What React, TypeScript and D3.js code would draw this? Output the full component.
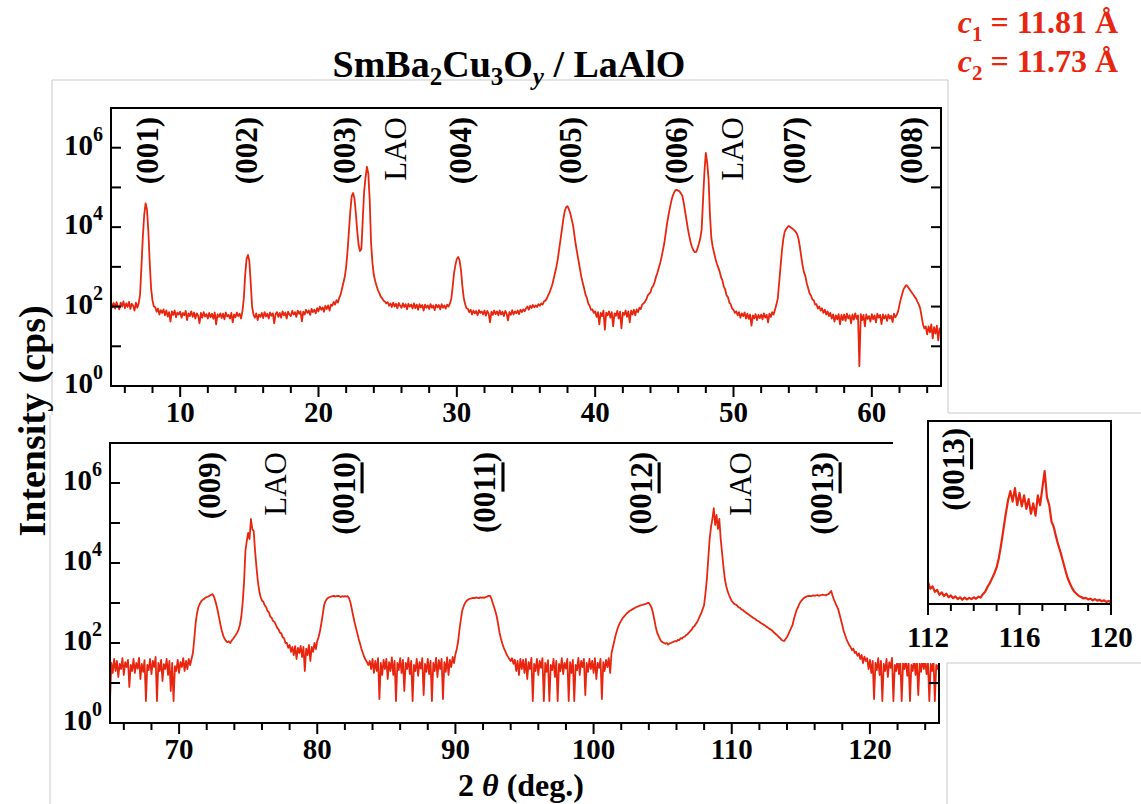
import React from 'react';
import * as d3 from 'd3';

// XRD theta-2theta scan of a SmBa2Cu3Oy film on LaAlO3, log intensity (cps).
const RED = '#e8260f';
const FONT = '"Liberation Serif", "Times New Roman", Times, serif';
const STEP = 0.1;

// Upper panel: 2theta from 5 to 65 deg in 0.1 deg steps, log10(cps)
const topStart = 5;
const topLogCps = [
  2.12, 1.98, 2.09, 1.95, 2.11, 2.01, 1.93, 2.1, 2.0, 2.13,
  1.96, 2.08, 1.99, 2.12, 1.94, 2.07, 2.02, 1.9, 2.1, 1.97,
  2.08, 2.3, 3.0, 3.75, 4.3, 4.6, 4.45, 3.9, 3.1, 2.45,
  2.15, 2.0, 1.98, 1.87, 1.95, 1.8, 1.91, 1.84, 1.93, 1.78,
  1.9, 1.75, 1.86, 1.62, 1.88, 1.79, 1.9, 1.73, 1.85, 1.8,
  1.87, 1.72, 1.84, 1.78, 1.89, 1.66, 1.83, 1.76, 1.88, 1.74,
  1.85, 1.7, 1.83, 1.77, 1.58, 1.84, 1.72, 1.86, 1.75, 1.81,
  1.7, 1.84, 1.73, 1.82, 1.69, 1.85, 1.55, 1.8, 1.74, 1.83,
  1.71, 1.82, 1.68, 1.85, 1.75, 1.79, 1.7, 1.84, 1.6, 1.8,
  1.73, 1.85, 1.76, 1.82, 1.7, 1.88, 2.2, 2.8, 3.2, 3.3,
  3.15, 2.6, 2.0, 1.8, 1.72, 1.83, 1.66, 1.8, 1.74, 1.84,
  1.71, 1.86, 1.75, 1.82, 1.7, 1.85, 1.77, 1.83, 1.58, 1.81,
  1.86, 1.74, 1.84, 1.72, 1.88, 1.78, 1.85, 1.7, 1.87, 1.8,
  1.76, 1.89, 1.8, 1.86, 1.74, 1.9, 1.82, 1.88, 1.63, 1.87,
  1.8, 1.92, 1.84, 1.9, 1.79, 1.94, 1.86, 1.92, 1.83, 1.96,
  1.88, 2.0, 1.92, 1.98, 1.87, 2.02, 1.94, 2.03, 1.9, 2.05,
  2.02, 2.12, 2.05, 2.16, 2.1, 2.22, 2.3, 2.45, 2.6, 2.75,
  3.0, 3.4, 3.9, 4.4, 4.78, 4.86, 4.72, 4.35, 3.9, 3.55,
  3.4, 3.45, 4.2, 4.9, 5.25, 5.52, 5.35, 4.7, 3.6, 3.1,
  2.8, 2.64, 2.52, 2.41, 2.34, 2.25, 2.21, 2.15, 2.13, 2.08,
  2.11, 2.02, 2.08, 1.99, 2.1, 2.0, 2.07, 1.96, 2.09, 2.02,
  1.97, 2.08, 1.99, 2.06, 1.93, 2.07, 2.0, 2.05, 1.95, 2.08,
  1.96, 2.05, 1.92, 2.06, 1.98, 2.04, 1.9, 2.05, 1.97, 2.03,
  1.94, 2.06, 1.97, 2.03, 1.91, 2.05, 1.98, 2.04, 1.93, 2.06,
  1.97, 2.03, 1.95, 2.05, 2.0, 2.08, 2.2, 2.5, 2.85, 3.05,
  3.2, 3.25, 3.16, 2.92, 2.52, 2.22, 2.06, 1.96, 1.94, 1.86,
  1.92, 1.8, 1.9, 1.83, 1.89, 1.78, 1.91, 1.84, 1.88, 1.8,
  1.9, 1.77, 1.89, 1.82, 1.6, 1.87, 1.79, 1.9, 1.81, 1.88,
  1.78, 1.9, 1.8, 1.87, 1.76, 1.89, 1.82, 1.65, 1.86, 1.79,
  1.91, 1.8, 1.88, 1.83, 1.9, 1.81, 1.92, 1.86, 1.93, 1.88,
  1.95, 2.0, 1.92, 2.02, 1.96, 2.04, 1.98, 2.03, 1.99, 2.06,
  2.02, 2.08, 2.05, 2.13, 2.15, 2.2, 2.28, 2.35, 2.45, 2.55,
  2.7, 2.85, 3.0, 3.2, 3.45, 3.7, 3.95, 4.2, 4.4, 4.5,
  4.53, 4.45, 4.35, 4.2, 4.05, 3.8, 3.55, 3.35, 3.15, 2.95,
  2.75, 2.6, 2.46, 2.3, 2.22, 2.08, 2.02, 1.92, 1.93, 1.84,
  1.88, 1.74, 1.86, 1.55, 1.84, 1.76, 1.9, 1.42, 1.85, 1.78,
  1.88, 1.72, 1.86, 1.5, 1.83, 1.77, 1.89, 1.7, 1.87, 1.45,
  1.85, 1.79, 1.9, 1.74, 1.88, 1.6, 1.9, 1.8, 1.92, 1.78,
  1.93, 1.86, 1.97, 1.94, 2.05, 2.08, 2.12, 2.18, 2.28, 2.32,
  2.36, 2.48, 2.52, 2.62, 2.75, 2.85, 2.98, 3.1, 3.25, 3.42,
  3.6, 3.85, 4.1, 4.3, 4.48, 4.65, 4.78, 4.87, 4.93, 4.94,
  4.92, 4.9, 4.85, 4.79, 4.62, 4.4, 4.18, 3.96, 3.78, 3.62,
  3.5, 3.42, 3.37, 3.38, 3.46, 3.58, 3.72, 3.95, 4.7, 5.4,
  5.87, 5.62, 5.2, 4.3, 3.72, 3.5, 3.35, 3.2, 3.08, 2.98,
  2.88, 2.74, 2.66, 2.5, 2.43, 2.28, 2.24, 2.1, 2.06, 1.95,
  1.92, 1.84, 1.88, 1.78, 1.86, 1.72, 1.83, 1.76, 1.85, 1.7,
  1.82, 1.69, 1.8, 1.52, 1.78, 1.7, 1.81, 1.66, 1.79, 1.71,
  1.8, 1.68, 1.83, 1.72, 1.79, 1.6, 1.82, 1.74, 1.86, 1.8,
  1.92, 2.05, 2.2, 2.6, 3.0, 3.4, 3.7, 3.88, 3.95, 4.0,
  4.03, 4.0, 3.98, 3.95, 3.92, 3.88, 3.82, 3.7, 3.5, 3.25,
  3.02, 2.86, 2.76, 2.58, 2.46, 2.33, 2.28, 2.18, 2.16, 2.05,
  2.06, 1.95, 2.0, 1.9, 1.96, 1.84, 1.92, 1.8, 1.88, 1.76,
  1.84, 1.7, 1.8, 1.62, 1.78, 1.68, 1.81, 1.55, 1.79, 1.66,
  1.8, 1.64, 1.82, 1.7, 1.78, 1.58, 1.8, 1.67, 1.83, 1.69,
  1.78, 0.5, 1.81, 1.66, 1.79, 1.5, 1.8, 1.69, 1.76, 1.62,
  1.81, 1.68, 1.78, 1.6, 1.82, 1.72, 1.79, 1.56, 1.8, 1.7,
  1.78, 1.64, 1.8, 1.7, 1.77, 1.61, 1.82, 1.73, 1.79, 1.88,
  2.05, 2.2, 2.32, 2.44, 2.5, 2.54, 2.5, 2.45, 2.4, 2.35,
  2.3, 2.25, 2.2, 2.12, 2.05, 1.95, 1.75, 1.55, 1.45, 1.5,
  1.3, 1.5, 1.35, 1.55, 1.2, 1.48, 1.32, 1.52, 1.15, 1.45,
  1.38,
];

// Lower panel: 2theta from 65 to 125 deg in 0.1 deg steps, log10(cps)
const bottomStart = 65;
const bottomLogCps = [
  0.55, 1.5, 1.25, 1.6, 1.3, 1.55, 1.15, 1.48, 1.35, 1.62,
  1.2, 1.52, 1.4, 1.58, 0.9, 1.45, 1.3, 1.6, 1.25, 1.5,
  1.36, 1.63, 1.1, 1.48, 1.28, 1.57, 0.55, 1.45, 1.32, 1.6,
  1.22, 1.55, 1.4, 1.65, 0.55, 1.5, 1.3, 1.58, 1.05, 1.47,
  1.35, 1.6, 1.2, 1.55, 0.8, 1.5, 0.55, 1.42, 1.3, 1.58,
  1.25, 1.52, 1.4, 1.62, 1.3, 1.55, 1.35, 1.6, 1.45, 1.6,
  1.75, 2.1, 2.5, 2.75, 2.9, 2.98, 3.04, 3.08, 3.1, 3.13,
  3.15, 3.16, 3.18, 3.2, 3.22, 3.18, 3.08, 2.95, 2.8, 2.62,
  2.45, 2.3, 2.18, 2.1, 2.05, 2.02, 2.04, 2.0, 2.06, 2.1,
  2.15, 2.2, 2.26, 2.33, 2.45, 2.65, 3.0, 3.5, 4.3, 4.55,
  4.75, 4.6, 5.1, 4.85, 4.8, 4.3, 3.9, 3.55, 3.3, 3.15,
  3.06, 3.03, 2.94, 2.9, 2.8, 2.77, 2.66, 2.63, 2.55, 2.53,
  2.46, 2.38, 2.34, 2.26, 2.24, 2.14, 2.12, 2.0, 2.0, 1.88,
  1.95, 1.78, 1.9, 1.7, 1.92, 1.6, 1.88, 1.75, 1.93, 1.65,
  1.9, 1.3, 1.86, 1.7, 1.95, 1.55, 1.9, 1.78, 2.0, 1.85,
  2.05, 2.15, 2.3, 2.5, 2.72, 2.95, 3.05, 3.1, 3.13, 3.15,
  3.16, 3.17, 3.18, 3.16, 3.17, 3.18, 3.17, 3.15, 3.17, 3.16,
  3.17, 3.16, 3.17, 3.12, 3.02, 2.85, 2.68, 2.52, 2.38, 2.24,
  2.1, 1.98, 1.85, 1.75, 1.65, 1.58, 1.52, 1.45, 1.55, 1.35,
  1.6, 1.25, 1.55, 1.3, 1.62, 0.6, 1.5, 1.2, 1.58, 1.35,
  1.6, 1.1, 1.52, 1.3, 1.64, 1.2, 1.55, 0.55, 1.5, 1.32,
  1.62, 1.25, 1.58, 0.8, 1.5, 1.35, 1.63, 1.22, 1.55, 0.55,
  1.45, 1.3, 1.6, 1.18, 1.52, 1.36, 1.62, 0.7, 1.48, 1.28,
  1.6, 1.22, 1.55, 0.55, 1.5, 1.3, 1.63, 1.15, 1.57, 1.35,
  1.6, 0.6, 1.52, 1.28, 1.64, 1.2, 1.58, 1.4, 1.65, 1.5,
  1.72, 1.85, 2.05, 2.35, 2.6, 2.82, 2.92, 3.0, 3.05, 3.08,
  3.1, 3.11, 3.12, 3.13, 3.12, 3.14, 3.13, 3.12, 3.14, 3.13,
  3.14, 3.13, 3.15, 3.16, 3.18, 3.18, 3.12, 3.0, 2.9, 2.78,
  2.65, 2.45, 2.25, 2.1, 1.98, 1.88, 1.8, 1.72, 1.66, 1.6,
  1.55, 1.62, 1.48, 1.58, 1.3, 1.55, 1.2, 1.6, 1.35, 1.58,
  1.25, 1.6, 1.1, 1.52, 1.35, 1.63, 0.55, 1.48, 1.3, 1.6,
  1.2, 1.55, 1.38, 1.62, 0.55, 1.5, 1.28, 1.57, 0.55, 1.45,
  1.32, 1.6, 1.15, 1.55, 0.55, 1.48, 1.3, 1.62, 1.22, 1.5,
  1.36, 1.6, 0.55, 1.52, 1.25, 1.58, 0.55, 1.45, 1.32, 1.63,
  1.2, 1.55, 1.4, 1.6, 0.7, 1.5, 1.28, 1.6, 1.35, 1.55,
  1.25, 1.62, 1.1, 1.5, 1.38, 1.6, 0.6, 1.52, 1.3, 1.58,
  1.4, 1.62, 1.25, 1.75, 1.9, 2.05, 2.2, 2.32, 2.42, 2.5,
  2.56, 2.62, 2.66, 2.7, 2.74, 2.77, 2.8, 2.82, 2.84, 2.86,
  2.88, 2.9, 2.91, 2.93, 2.94, 2.95, 2.96, 2.97, 2.98, 3.0,
  3.0, 2.95, 2.88, 2.75, 2.58, 2.4, 2.26, 2.18, 2.1, 2.04,
  2.02, 2.0, 1.98, 2.0, 1.96, 1.99, 2.0, 2.02, 2.03, 2.05,
  2.04, 2.08, 2.07, 2.12, 2.11, 2.15, 2.16, 2.2, 2.22, 2.26,
  2.3, 2.33, 2.4, 2.42, 2.48, 2.52, 2.6, 2.68, 2.75, 2.85,
  2.95, 3.25, 3.6, 4.1, 4.6, 4.9, 5.1, 5.37, 4.95, 5.2,
  4.85, 5.1, 4.6, 4.25, 3.9, 3.6, 3.42, 3.3, 3.2, 3.12,
  3.05, 3.01, 2.97, 2.96, 2.93, 2.89, 2.88, 2.84, 2.83, 2.79,
  2.77, 2.74, 2.72, 2.69, 2.67, 2.64, 2.62, 2.6, 2.57, 2.55,
  2.53, 2.5, 2.48, 2.46, 2.44, 2.41, 2.39, 2.36, 2.34, 2.32,
  2.28, 2.25, 2.22, 2.19, 2.15, 2.12, 2.08, 2.06, 2.05, 2.1,
  2.15, 2.22, 2.3, 2.38, 2.45, 2.6, 2.72, 2.83, 2.9, 2.98,
  3.04, 3.08, 3.12, 3.14, 3.16, 3.17, 3.18, 3.17, 3.18, 3.19,
  3.18, 3.19, 3.2, 3.18, 3.19, 3.2, 3.21, 3.2, 3.19, 3.21,
  3.22, 3.26, 3.3, 3.18, 3.08, 3.0, 2.92, 2.85, 2.72, 2.58,
  2.45, 2.3, 2.2, 2.1, 2.02, 1.95, 1.9, 1.82, 1.86, 1.75,
  1.78, 1.68, 1.74, 1.6, 1.7, 1.5, 1.66, 1.55, 1.62, 1.35,
  1.58, 1.25, 1.55, 0.6, 1.5, 1.32, 1.62, 1.2, 1.55, 0.55,
  1.48, 1.3, 1.6, 1.15, 1.52, 1.38, 1.63, 0.55, 1.45, 1.3,
  1.6, 1.22, 1.55, 0.55, 1.5, 1.35, 1.6, 1.18, 1.52, 0.55,
  1.45, 1.3, 1.62, 1.2, 1.55, 0.7, 1.5, 1.28, 1.6, 1.35,
  1.58, 1.22, 1.52, 0.55, 1.48, 1.3, 1.6, 0.55, 1.45, 1.35,
  1.5,
];

// Inset: (00 13) reflection on a linear scale, 112 to 120 deg, cps
const insetStart = 112;
const insetCps = [
  360, 250, 290, 200, 230, 150, 190, 130, 170, 110,
  140, 95, 125, 80, 110, 70, 105, 75, 100, 80,
  110, 85, 120, 105, 160, 200, 280, 340, 420, 500,
  600, 760, 980, 1230, 1480, 1700, 1850, 1680, 1900, 1620,
  1820, 1600, 1780, 1560, 1720, 1480, 1650, 1450, 1780, 1620,
  1900, 2180, 1750, 1620, 1350, 1260, 1100, 960, 840, 700,
  560, 430, 340, 260, 200, 165, 130, 115, 90, 100,
  75, 90, 60, 80, 55, 70, 45, 60, 35, 50,
  30,
];

const topTickLabels = [10, 20, 30, 40, 50, 60];
const bottomTickLabels = [70, 80, 90, 100, 110, 120];
const insetTickLabels = [112, 116, 120];
const decadeLabels = [0, 2, 4, 6];

const topPeakPos = [7.65, 14.77, 21.9, 25.6, 30.3, 38.2, 45.9, 49.9, 54.4, 62.9];
const topPeakNames = ['(001)', '(002)', '(003)', 'LAO', '(004)', '(005)', '(006)', 'LAO', '(007)', '(008)'];
const bottomPeakPos = [72.2, 77.0, 81.9, 92.1, 103.4, 110.6, 116.5];
const bottomPeakNames = ['(009)', 'LAO', '(0010)', '(0011)', '(0012)', 'LAO', '(0013)'];

function PeakLabel({ x, y, name }: { x: number; y: number; name: string }) {
  const m = /^\(00(\d\d)\)$/.exec(name);
  const lao = name === 'LAO';
  return (
    <text
      transform={`translate(${x},${y}) rotate(-90)`}
      textAnchor="end"
      dominantBaseline="central"
      fontSize={31}
      fontWeight={lao ? 'normal' : 'bold'}
      fontFamily={FONT}
      fill="#000"
    >
      {m ? (
        <>
          (00<tspan style={{ textDecoration: 'underline' }}>{m[1]}</tspan>)
        </>
      ) : (
        name
      )}
    </text>
  );
}

type PanelProps = {
  id: string;
  left: number;
  right: number;
  top: number;
  bottom: number;
  domain: [number, number];
  start: number;
  values: number[];
  tickLabels: number[];
  peakPos: number[];
  peakNames: string[];
  labelTop: number;
};

function Panel(p: PanelProps) {
  const x = d3.scaleLinear().domain(p.domain).range([p.left, p.right]);
  const y = d3.scaleLog().domain([1, 1e7]).range([p.bottom, p.top]);
  const line = d3
    .line<number>()
    .x((_, i) => x(p.start + i * STEP))
    .y((v) => y(Math.pow(10, v)));
  const minor = d3.range(Math.ceil(p.domain[0] / 2) * 2, p.domain[1], 2);
  const decades = d3.range(1, 7);
  return (
    <g>
      <defs>
        <clipPath id={p.id}>
          <rect x={p.left} y={p.top} width={p.right - p.left} height={p.bottom - p.top} />
        </clipPath>
      </defs>
      <path
        d={line(p.values) || ''}
        fill="none"
        stroke={RED}
        strokeWidth={1.8}
        strokeLinejoin="round"
        clipPath={`url(#${p.id})`}
      />
      <rect x={p.left} y={p.top} width={p.right - p.left} height={p.bottom - p.top} fill="none" stroke="#000" strokeWidth={2} />
      {decades.map((d) => (
        <g key={d}>
          <line x1={p.left} x2={p.left + 10} y1={y(Math.pow(10, d))} y2={y(Math.pow(10, d))} stroke="#000" strokeWidth={2} />
          <line x1={p.right - 10} x2={p.right} y1={y(Math.pow(10, d))} y2={y(Math.pow(10, d))} stroke="#000" strokeWidth={2} />
        </g>
      ))}
      {minor.map((t) => (
        <line key={t} x1={x(t)} x2={x(t)} y1={p.bottom} y2={p.bottom + (t % 10 === 0 ? 11 : 7)} stroke="#000" strokeWidth={2} />
      ))}
      {p.tickLabels.map((t) => (
        <text key={t} x={x(t)} y={p.bottom + 36} textAnchor="middle" fontSize={29} fontWeight="bold" fontFamily={FONT}>
          {t}
        </text>
      ))}
      {decadeLabels.map((d) => (
        <g key={d}>
          <text x={p.left - 18} y={y(Math.pow(10, d)) + 7} textAnchor="end" fontSize={29} fontWeight="bold" fontFamily={FONT}>
            10
          </text>
          <text x={p.left - 18} y={y(Math.pow(10, d)) - 7} textAnchor="start" fontSize={20} fontWeight="bold" fontFamily={FONT}>
            {d}
          </text>
        </g>
      ))}
      {p.peakPos.map((pos, i) => (
        <PeakLabel key={i} x={x(pos)} y={p.labelTop} name={p.peakNames[i]} />
      ))}
    </g>
  );
}

function Inset() {
  const left = 928;
  const right = 1111;
  const top = 421;
  const bottom = 604;
  const x = d3.scaleLinear().domain([112, 120]).range([left, right]);
  const y = d3.scaleLinear().domain([0, 3000]).range([bottom, top]);
  const line = d3
    .line<number>()
    .x((_, i) => x(insetStart + i * STEP))
    .y((v) => y(v));
  const ticks = d3.range(112, 121, 1);
  return (
    <g>
      <path d={line(insetCps) || ''} fill="none" stroke={RED} strokeWidth={2.2} strokeLinejoin="round" />
      <rect x={left} y={top} width={right - left} height={bottom - top} fill="none" stroke="#000" strokeWidth={2} />
      {ticks.map((t) => (
        <line key={t} x1={x(t)} x2={x(t)} y1={bottom} y2={bottom + (t % 4 === 0 ? 11 : 7)} stroke="#000" strokeWidth={2} />
      ))}
      {insetTickLabels.map((t) => (
        <text key={t} x={x(t)} y={647} textAnchor="middle" fontSize={29} fontWeight="bold" fontFamily={FONT}>
          {t}
        </text>
      ))}
      <PeakLabel x={953} y={428} name="(0013)" />
    </g>
  );
}

export default function App() {
  const gray = '#c9c9c9';
  return (
    <svg
      width={1141}
      height={804}
      viewBox="0 0 1141 804"
      style={{ position: 'absolute', left: 0, top: 0, background: '#fff' }}
      fontFamily={FONT}
    >
      <rect x={0} y={0} width={1141} height={804} fill="#fff" />
      {/* frames of the assembled figure */}
      <line x1={52} y1={80} x2={948} y2={80} stroke={gray} strokeWidth={1} />
      <line x1={52} y1={80} x2={52} y2={415} stroke={gray} strokeWidth={1} />
      <line x1={948} y1={80} x2={948} y2={413} stroke={gray} strokeWidth={1} />
      <line x1={50} y1={415} x2={50} y2={804} stroke={gray} strokeWidth={1} />

      <Panel
        id="clipTop"
        left={111}
        right={941}
        top={108}
        bottom={386}
        domain={[5, 65]}
        start={topStart}
        values={topLogCps}
        tickLabels={topTickLabels}
        peakPos={topPeakPos}
        peakNames={topPeakNames}
        labelTop={117}
      />
      <Panel
        id="clipBottom"
        left={110}
        right={939}
        top={443}
        bottom={723}
        domain={[65, 125]}
        start={bottomStart}
        values={bottomLogCps}
        tickLabels={bottomTickLabels}
        peakPos={bottomPeakPos}
        peakNames={bottomPeakNames}
        labelTop={452}
      />

      {/* inset panel */}
      <rect x={893} y={413} width={248} height={250} fill="#fff" />
      <line x1={948} y1={413} x2={1141} y2={413} stroke={gray} strokeWidth={1} />
      <line x1={947} y1={663} x2={1141} y2={663} stroke={gray} strokeWidth={1} />
      <line x1={947} y1={663} x2={947} y2={804} stroke={gray} strokeWidth={1} />
      <Inset />

      {/* title */}
      <text x={509} y={77} textAnchor="middle" fontSize={38} fontWeight="bold">
        SmBa<tspan dy={8} fontSize={25}>2</tspan>
        <tspan dy={-8}>Cu</tspan>
        <tspan dy={8} fontSize={25}>3</tspan>
        <tspan dy={-8}>O</tspan>
        <tspan dy={8} fontSize={25} fontStyle="italic">y</tspan>
        <tspan dy={-8}> / LaAlO</tspan>
      </text>

      {/* lattice constants */}
      <text x={1118} y={33} textAnchor="end" fontSize={32} fontWeight="bold" fill={RED}>
        <tspan fontStyle="italic">c</tspan>
        <tspan dy={8} fontSize={21}>1</tspan>
        <tspan dy={-8}> = 11.81 Å</tspan>
      </text>
      <text x={1118} y={72} textAnchor="end" fontSize={32} fontWeight="bold" fill={RED}>
        <tspan fontStyle="italic">c</tspan>
        <tspan dy={8} fontSize={21}>2</tspan>
        <tspan dy={-8}> = 11.73 Å</tspan>
      </text>

      {/* axis titles */}
      <text
        transform="translate(32,421) rotate(-90)"
        textAnchor="middle"
        dominantBaseline="central"
        fontSize={38}
        fontWeight="bold"
      >
        Intensity (cps)
      </text>
      <text x={521} y={796} textAnchor="middle" fontSize={32} fontWeight="bold">
        2<tspan fontStyle="italic"> θ</tspan> (deg.)
      </text>
    </svg>
  );
}
